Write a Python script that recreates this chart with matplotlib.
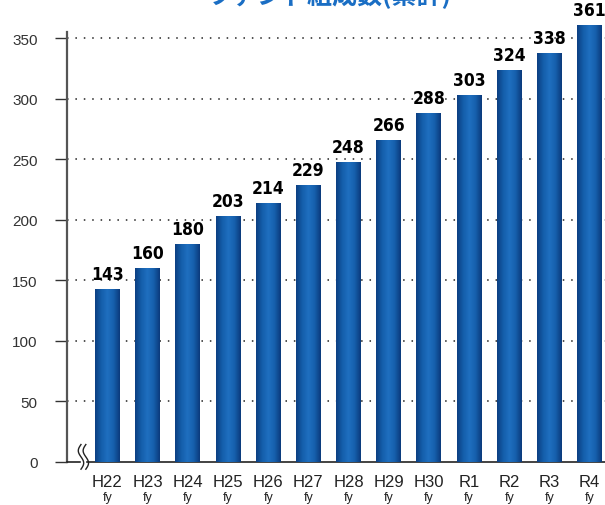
import matplotlib.pyplot as plt
import matplotlib.transforms as mtransforms
from matplotlib.colors import LinearSegmentedColormap
import numpy as np

# Data
categories = ["H22", "H23", "H24", "H25", "H26", "H27", "H28",
              "H29", "H30", "R1", "R2", "R3", "R4"]
unit = "fy"
values = [143, 160, 180, 203, 214, 229, 248, 266, 288, 303, 324, 338, 361]
yticks = [0, 50, 100, 150, 200, 250, 300, 350]
title = "ファンド組成数(累計)"

fig = plt.figure(figsize=(6.05, 5.06), dpi=100)
ax = fig.add_axes([67 / 605, 43 / 506, 538 / 605, 448 / 506])

x = np.arange(len(categories))
bars = ax.bar(x, values, width=0.62, color="none", edgecolor="none", zorder=3)

# horizontal gradient inside each bar: dark edges, lighter centre
cmap = LinearSegmentedColormap.from_list(
    "bar", ["#0c3f82", "#145eaa", "#1f6fc0", "#1660ad", "#0b3a7c"])
grad = np.linspace(0, 1, 64).reshape(1, -1)
for b in bars:
    x0, y0 = b.get_x(), b.get_y()
    im = ax.imshow(grad, cmap=cmap, aspect="auto", zorder=3,
                   extent=[x0, x0 + b.get_width(), y0, y0 + b.get_height()])
    im.set_clip_path(b)

for xi, v in zip(x, values):
    ax.text(xi, v + 5, str(v), ha="center", va="bottom", fontsize=12.5,
            fontweight="bold", family=["DejaVu Sans", "Liberation Sans"],
            fontstretch="condensed", clip_on=False, zorder=4)

ax.set_xlim(-1.008, 12.385)
ax.set_ylim(0, 370)

# dotted grid lines
for t in yticks[1:]:
    ax.axhline(t, color="#222222", lw=1.1, ls=(0, (1, 4.5)), zorder=1)

ax.spines[["top", "right"]].set_visible(False)
ax.spines["left"].set_color("#555555")
ax.spines["left"].set_linewidth(1.6)
ax.spines["left"].set_bounds(0, 355)
ax.spines["bottom"].set_color("#222222")
ax.spines["bottom"].set_linewidth(1.2)

ax.set_yticks(yticks)
ax.set_yticklabels([str(t) for t in yticks], family="Liberation Sans",
                   fontsize=11, color="#333333")
ax.tick_params(axis="y", length=9, width=1, color="#333333", pad=12)

ax.set_xticks(x)
ax.set_xticklabels(categories, family="Liberation Sans", fontsize=12,
                   color="#222222")
ax.tick_params(axis="x", length=0, pad=9)
trans = mtransforms.blended_transform_factory(ax.transData, ax.transAxes)
for xi in x:
    ax.text(xi, -29 / 448, unit, transform=trans, ha="center", va="top",
            fontsize=9, family="Liberation Sans", color="#222222")

# axis break mark
bt = mtransforms.blended_transform_factory(ax.transAxes, ax.transAxes)
s = np.linspace(0, 1, 40)
ax.fill_between([0.026, 0.034], -0.012, 0.035, color="white", transform=bt,
                zorder=4.5, clip_on=False)
for dx in (0.0, 0.009):
    xs = 0.026 + dx + 0.005 * np.sin(s * 2 * np.pi)
    ys = -0.016 + s * 0.055
    ax.plot(xs, ys, color="#222222", lw=1.0, transform=bt, clip_on=False,
            zorder=5)

fig.text(330 / 605, 1 - 4 / 506, title, ha="center", va="baseline",
         fontsize=18, fontweight="bold", color="#1a6ec4",
         family=["Noto Sans CJK JP", "DejaVu Sans"])

fig.savefig("out.png", dpi=100)
